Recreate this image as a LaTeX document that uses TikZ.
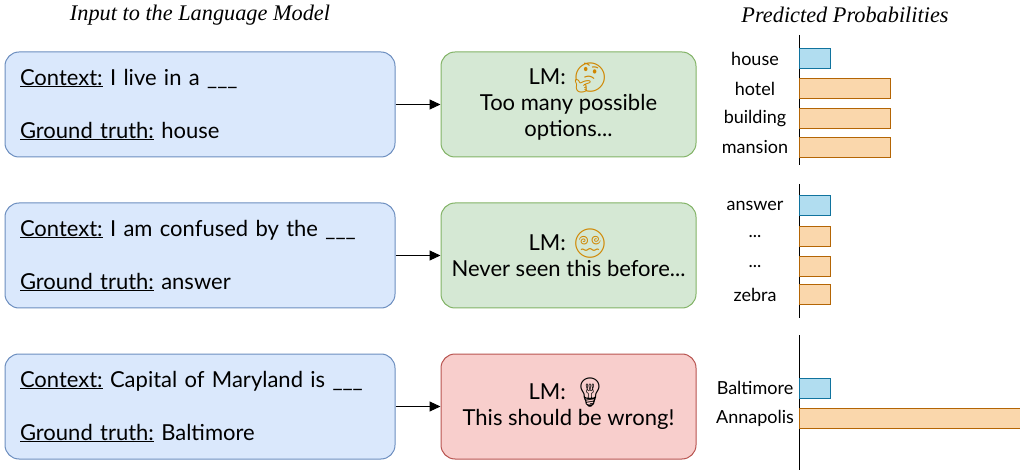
\documentclass[tikz,border=0pt]{standalone}
\usepackage{fontspec}
\setmainfont{Lato}
\newfontfamily\titlefont{Liberation Serif}
\newfontfamily\emojifont{Noto Emoji}
\usetikzlibrary{arrows.meta, positioning}
\definecolor{inline}{HTML}{6C8EBF}
\definecolor{infill}{HTML}{DAE8FC}
\definecolor{okline}{HTML}{82B366}
\definecolor{okfill}{HTML}{D5E8D4}
\definecolor{badline}{HTML}{B85450}
\definecolor{badfill}{HTML}{F8CECC}
\definecolor{gtline}{HTML}{10739E}
\definecolor{gtfill}{HTML}{B1DDF0}
\definecolor{altline}{HTML}{B46504}
\definecolor{altfill}{HTML}{FAD7AC}
\definecolor{emojicol}{HTML}{D08600}
\newcommand{\skipword}{.\kern0pt.\kern0pt.}
\newcommand{\lmface}[1]{{\emojifont\fontsize{29}{26}\selectfont\raisebox{-3pt}[16pt][0pt]{#1}}}

\begin{document}
\begin{tikzpicture}[x=1pt, y=-1pt, font=\fontsize{22}{26}\selectfont,
    inbox/.style={draw=inline, fill=infill, line width=1pt, rounded corners=14pt, minimum width=390pt, minimum height=105pt, text width=360pt, inner xsep=15pt, align=left},
    lmbox/.style={line width=1pt, rounded corners=14pt, minimum width=255pt, minimum height=105pt, align=center},
    gtbar/.style={draw=gtline, fill=gtfill, line width=1pt, anchor=west, minimum height=20pt, inner sep=0pt},
    altbar/.style={draw=altline, fill=altfill, line width=1pt, anchor=west, minimum height=20pt, inner sep=0pt},
    word/.style={font=\fontsize{18}{20}\selectfont},
    heading/.style={font=\titlefont\itshape\fontsize{22.3}{24}\selectfont},
    ]
    \useasboundingbox (0,0) rectangle (1020,470);

    % Headings
    \node[heading] (inhead) at (200,15) {Input to the Language Model};
    \node[heading] (probhead) at (845,15) {Predicted Probabilities};

    % Inputs
    \node[inbox] (in1) at (200,104.5) {\underline{Context:} I live in a \_\_\_\\[27pt]\underline{Ground truth:} house};
    \node[inbox, below=45pt of in1] (in2) {\underline{Context:} I am confused by the \_\_\_\\[27pt]\underline{Ground truth:} answer};
    \node[inbox, below=45pt of in2] (in3) {\underline{Context:} Capital of Maryland is \_\_\_\\[27pt]\underline{Ground truth:} Baltimore};

    % LM answers
    \node[lmbox, draw=okline, fill=okfill, right=45pt of in1] (lm1) {LM: \lmface{\color{emojicol}🤔}\\Too many possible\\options...};
    \node[lmbox, draw=okline, fill=okfill, right=45pt of in2] (lm2) {LM: \lmface{\color{emojicol}😵‍💫}\\Never seen this before...};
    \node[lmbox, draw=badline, fill=badfill, right=45pt of in3] (lm3) {LM: \lmface{💡}\\This should be wrong!};

    \foreach \i in {1,2,3} {
      \draw[-{Triangle[length=11pt,width=10pt]}, line width=1pt] (in\i) -- (lm\i);
    }

    % Probabilities
    \draw[line width=1pt] (799,35) -- (799,165);
    \draw[line width=1pt] (799,184) -- (799,318);
    \draw[line width=1pt] (799,335) -- (799,470);

    \foreach \w/\y/\s/\lab [count=\i] in {31/59/gtbar/house, 91/89/altbar/hotel, 91/119/altbar/building, 91/147.5/altbar/mansion} {
      \node[\s, minimum width=\w] (bara-\i) at (799,\y) {};
      \node[word] (worda-\i) at (755,\y) {\lab};
    }
    \foreach \w/\y/\s/\lab [count=\i] in {31/206/gtbar/answer, 31/236.5/altbar/\skipword, 31/266.5/altbar/\skipword, 31/294.5/altbar/zebra} {
      \node[\s, minimum width=\w] (barb-\i) at (799,\y) {};
      \node[word] (wordb-\i) at (755,\y) {\lab};
    }
    \foreach \w/\y/\s/\lab [count=\i] in {31/388/gtbar/Baltimore, 240/418/altbar/Annapolis} {
      \node[\s, minimum width=\w] (barc-\i) at (799,\y) {};
      \node[word] (wordc-\i) at (755,\y) {\lab};
    }
\end{tikzpicture}
\end{document}
